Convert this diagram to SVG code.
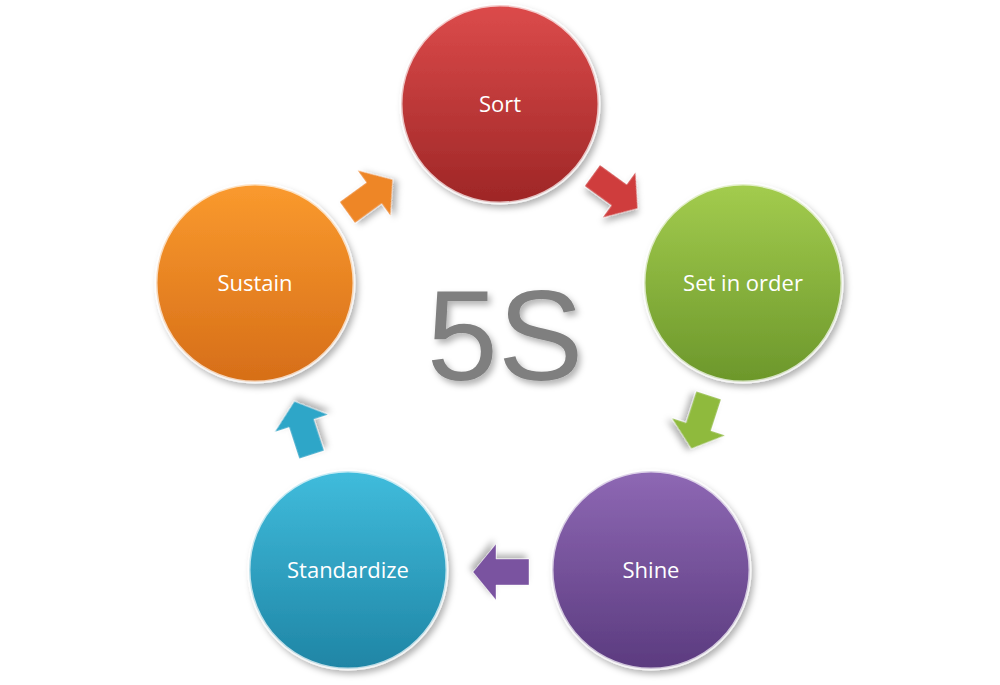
<svg xmlns="http://www.w3.org/2000/svg" width="1000" height="685" viewBox="0 0 1000 685">
<defs>
<linearGradient id="gr" x1="0" y1="0" x2="0" y2="1"><stop offset="0" stop-color="#dc4b4b"/><stop offset="1" stop-color="#9e2626"/></linearGradient>
<linearGradient id="gg" x1="0" y1="0" x2="0" y2="1"><stop offset="0" stop-color="#a3cc4e"/><stop offset="1" stop-color="#6c972b"/></linearGradient>
<linearGradient id="gp" x1="0" y1="0" x2="0" y2="1"><stop offset="0" stop-color="#8e68b4"/><stop offset="1" stop-color="#5b3b7f"/></linearGradient>
<linearGradient id="gc" x1="0" y1="0" x2="0" y2="1"><stop offset="0" stop-color="#40bcdc"/><stop offset="1" stop-color="#1f85a5"/></linearGradient>
<linearGradient id="go" x1="0" y1="0" x2="0" y2="1"><stop offset="0" stop-color="#fa9a2e"/><stop offset="1" stop-color="#d66e18"/></linearGradient>
<filter id="sh" x="-20%" y="-20%" width="140%" height="140%"><feDropShadow dx="3" dy="4" stdDeviation="3" flood-opacity="0.3"/></filter>
<path id="arr" d="M-28,-13 L5,-13 L5,-28 L28,0 L5,28 L5,13 L-28,13 Z"/>
</defs>
<style>
.c{stroke:#ffffff;stroke-opacity:0.7;stroke-width:3;filter:url(#sh)}
.t{font-family:"Open Sans","Liberation Sans",sans-serif;font-size:22px;fill:#fff;text-anchor:middle}
.a{filter:url(#sh);stroke:#fff;stroke-opacity:0.4;stroke-width:1}
</style>
<text x="505" y="380" font-family="'Liberation Sans',Arial,sans-serif" font-size="128" fill="#7f7f7f" text-anchor="middle" filter="url(#sh)">5S</text>
<g id="n1"><circle cx="500" cy="104" r="99" fill="url(#gr)" class="c"/><text class="t" x="500" y="112">Sort</text></g>
<g id="n2"><circle cx="743" cy="283" r="99" fill="url(#gg)" class="c"/><text class="t" x="743" y="291">Set in order</text></g>
<g id="n3"><circle cx="651" cy="570" r="99" fill="url(#gp)" class="c"/><text class="t" x="651" y="578">Shine</text></g>
<g id="n4"><circle cx="348" cy="570" r="99" fill="url(#gc)" class="c"/><text class="t" x="348" y="578">Standardize</text></g>
<g id="n5"><circle cx="255" cy="283" r="99" fill="url(#go)" class="c"/><text class="t" x="255" y="291">Sustain</text></g>
<g id="connectors">
<use href="#arr" class="a" fill="#cf3c3c" transform="translate(615,192) rotate(36)"/>
<use href="#arr" class="a" fill="#8fba3e" transform="translate(700,422) rotate(108)"/>
<use href="#arr" class="a" fill="#7a52a0" transform="translate(501,572) rotate(180)"/>
<use href="#arr" class="a" fill="#2fa6c8" transform="translate(303,428) rotate(252)"/>
<use href="#arr" class="a" fill="#ee8626" transform="translate(370,196) rotate(-36)"/>
</g>
</svg>
